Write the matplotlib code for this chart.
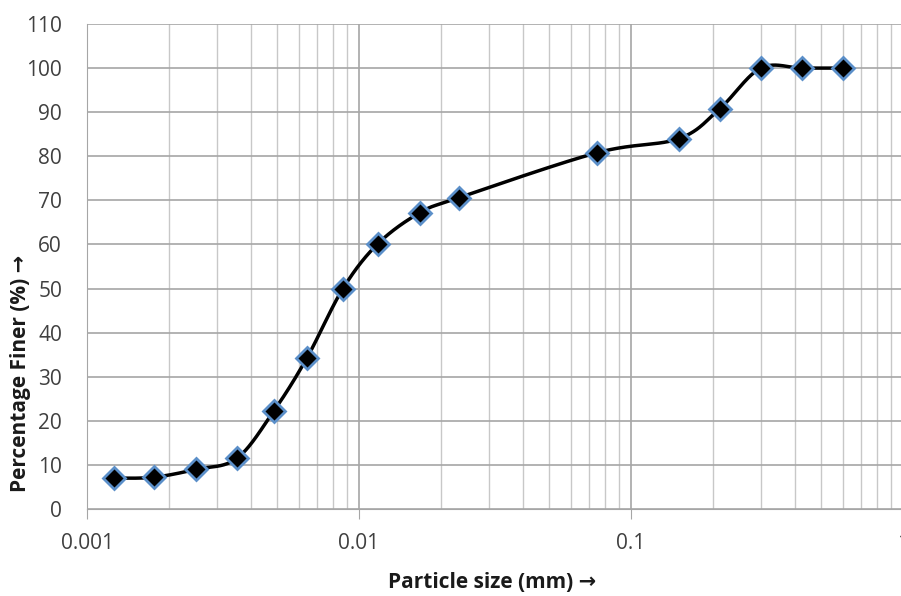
import numpy as np
import matplotlib.pyplot as plt
from matplotlib.ticker import FixedLocator, NullFormatter

# particle size (mm) and percentage finer
size_mm = [0.00126, 0.00176, 0.00252, 0.00356, 0.00487, 0.00644, 0.00873,
           0.01175, 0.01675, 0.0233, 0.075, 0.15, 0.212, 0.30, 0.425, 0.60]
pct_finer = [7.0, 7.2, 9.0, 11.5, 22.3, 34.3, 50.0,
             60.2, 67.2, 70.6, 80.8, 84.0, 90.8, 100.0, 100.0, 100.0]
x_ticks = [0.001, 0.01, 0.1, 1]
x_ticklabels = ['0.001', '0.01', '0.1', '1']
y_ticks = list(range(0, 111, 10))

plt.rcParams['font.family'] = ['Open Sans', 'DejaVu Sans']

fig = plt.figure(figsize=(9.01, 5.96), dpi=100)
W, H = 901, 596
# axes box in pixels: left 87, right 903 (x=1 falls just past the edge), top 24, bottom 509
ax = fig.add_axes([87 / W, (H - 509) / H, (903 - 87) / W, (509 - 24) / H])

ax.set_xscale('log')
ax.set_xlim(0.001, 1)
ax.set_ylim(0, 110)

# smoothed curve (Excel-like bezier through points) computed in screen-ish space
pw, ph = 816.0, 485.0
U = (np.log10(size_mm) + 3) / 3 * pw
V = np.array(pct_finer) / 110 * ph
P = np.column_stack([U, V])
curve = []
n = len(P)
for i in range(n - 1):
    p0 = P[i - 1] if i > 0 else P[i]
    p1 = P[i]
    p2 = P[i + 1]
    p3 = P[i + 2] if i + 2 < n else P[i + 1]
    c1 = p1 + (p2 - p0) / 6
    c2 = p2 - (p3 - p1) / 6
    t = np.linspace(0, 1, 40)[:, None]
    seg = ((1 - t) ** 3) * p1 + 3 * ((1 - t) ** 2) * t * c1 + 3 * (1 - t) * t ** 2 * c2 + t ** 3 * p2
    curve.append(seg if i == 0 else seg[1:])
curve = np.vstack(curve)
cx = 10 ** (curve[:, 0] / pw * 3 - 3)
cy = curve[:, 1] / ph * 110

ax.plot(cx, cy, color='black', lw=2.5, zorder=3, solid_capstyle='round')
ax.plot(size_mm, pct_finer, linestyle='none', marker='D', markersize=11.5,
        markerfacecolor='black', markeredgecolor='#5B8FC9', markeredgewidth=2.0, zorder=4)

ax.xaxis.set_major_locator(FixedLocator(x_ticks))
ax.set_xticklabels(x_ticklabels)
minors = [m * 10.0 ** e for e in range(-3, 0) for m in range(2, 10)]
ax.xaxis.set_minor_locator(FixedLocator(minors))
ax.xaxis.set_minor_formatter(NullFormatter())
ax.set_yticks(y_ticks)

ax.grid(which='major', color='#a6a6a6', lw=1.2)
ax.grid(which='minor', axis='x', color='#c8c8c8', lw=1.0)
ax.set_axisbelow(True)

for side in ['top', 'right']:
    ax.spines[side].set_visible(False)
ax.spines['left'].set_color('#a6a6a6')
ax.spines['bottom'].set_color('#a6a6a6')
ax.tick_params(axis='x', which='major', length=7, color='#a6a6a6', labelsize=15, pad=10, labelcolor='#404040')
ax.tick_params(axis='x', which='minor', length=0)
ax.tick_params(axis='y', length=0, labelsize=15, pad=18, labelcolor='#404040')

fig.text(492 / W, 1 - 582 / H, 'Particle size (mm) →', ha='center', va='center',
         fontsize=15, fontweight='bold', color='#1a1a1a')
fig.text(21 / W, 1 - 373 / H, 'Percentage Finer (%) →', ha='center', va='center',
         rotation=90, fontsize=15, fontweight='bold', color='#1a1a1a')

fig.savefig('out.png', dpi=100)
